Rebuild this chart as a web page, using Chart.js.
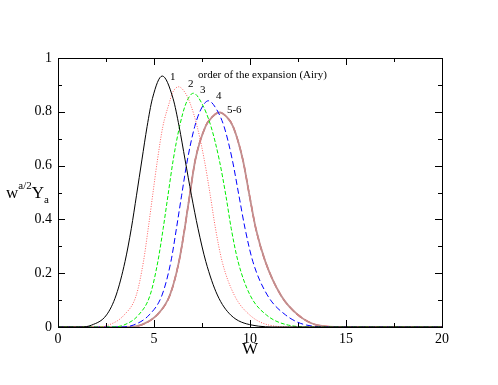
<!DOCTYPE html>
<html>
<head>
<meta charset="utf-8">
<script src="https://cdn.jsdelivr.net/npm/chart.js@4/dist/chart.umd.min.js"></script>
<style>
  html, body { margin: 0; padding: 0; background: #fff; }
  #wrap { width: 498px; height: 385px; }
</style>
</head>
<body>
<div id="wrap"><canvas id="chart"></canvas></div>
<script>
// values (W, w^{a/2} Y_a), one pair of lists per curve
const w1 = [0, 1.2, 1.75, 2.53, 3.03, 3.49, 3.82, 4.09, 4.37, 4.64, 4.92, 5.43, 5.99, 6.31, 6.62, 6.95, 7.29, 7.70, 8.30, 8.99, 10.11, 11.5, 20];
const y1 = [0, 0, 0.007, 0.045, 0.119, 0.243, 0.367, 0.49, 0.621, 0.745, 0.85, 0.933, 0.85, 0.745, 0.621, 0.49, 0.367, 0.243, 0.119, 0.045, 0.007, 0, 0];

const w2 = [0, 2.0, 2.62, 3.45, 4.08, 4.45, 4.70, 4.93, 5.18, 5.46, 5.79, 5.96, 6.28, 6.63, 6.88, 7.25, 7.62, 7.93, 8.20, 8.55, 9.18, 9.98, 11.0, 12.3, 20];
const y2 = [0, 0, 0.007, 0.045, 0.119, 0.243, 0.367, 0.49, 0.621, 0.745, 0.832, 0.87, 0.893, 0.87, 0.832, 0.745, 0.621, 0.49, 0.367, 0.243, 0.119, 0.045, 0.007, 0, 0];

const w3 = [0, 2.8, 3.42, 4.2, 4.8, 5.2, 5.48, 5.73, 6.0, 6.33, 6.66, 7.05, 7.5, 7.97, 8.40, 8.74, 9.02, 9.38, 10.0, 10.85, 12.0, 13.3, 20];
const y3 = [0, 0, 0.007, 0.045, 0.119, 0.243, 0.367, 0.49, 0.621, 0.745, 0.83, 0.869, 0.83, 0.745, 0.621, 0.49, 0.367, 0.243, 0.119, 0.045, 0.007, 0, 0];

const w4 = [0, 3.3, 3.92, 4.75, 5.42, 5.88, 6.17, 6.44, 6.74, 7.12, 7.45, 7.83, 8.25, 8.65, 9.08, 9.42, 9.74, 10.15, 10.9, 11.85, 12.95, 14.3, 20];
const y4 = [0, 0, 0.007, 0.045, 0.119, 0.243, 0.367, 0.49, 0.621, 0.745, 0.81, 0.841, 0.81, 0.745, 0.621, 0.49, 0.367, 0.243, 0.119, 0.045, 0.007, 0, 0];

const w56 = [0, 3.7, 4.3, 5.16, 5.83, 6.3, 6.6, 6.86, 7.15, 7.68, 8.02, 8.4, 8.8, 9.12, 9.63, 9.97, 10.3, 10.8, 11.6, 12.5, 13.5, 14.8, 20];
const y56 = [0, 0, 0.007, 0.045, 0.119, 0.243, 0.367, 0.49, 0.621, 0.745, 0.78, 0.798, 0.78, 0.745, 0.621, 0.49, 0.367, 0.243, 0.119, 0.045, 0.007, 0, 0];

const xTicks = [0, 5, 10, 15, 20];
const yTicks = [0, 0.2, 0.4, 0.6, 0.8, 1];

// text labels placed in data units: [text, W, value]
const notes = [
  ["1", 5.83, 0.918],
  ["2", 6.77, 0.892],
  ["3", 7.40, 0.870],
  ["4", 8.23, 0.849],
  ["5-6", 8.80, 0.796],
  ["order of the expansion (Airy)", 7.29, 0.926]
];

const serif = "'Liberation Serif', 'Times New Roman', serif";

function pts(ws, ys) {
  return ws.map((w, i) => ({ x: w, y: ys[i] }));
}

function line(ws, ys, color, dash, width) {
  return {
    data: pts(ws, ys),
    borderColor: color,
    borderDash: dash,
    borderWidth: width,
    pointRadius: 0,
    fill: false,
    cubicInterpolationMode: "monotone"
  };
}

// inward ticks on all four sides plus the frame, and the free text
const frame = {
  id: "frame",
  afterDraw(chart) {
    const ctx = chart.ctx;
    const a = chart.chartArea;
    const x = chart.scales.x;
    const y = chart.scales.y;
    ctx.save();
    ctx.strokeStyle = "#000";
    ctx.lineWidth = 1;
    ctx.strokeRect(Math.round(a.left) + 0.5, Math.round(a.top) + 0.5,
      Math.round(a.right - a.left), Math.round(a.bottom - a.top));

    ctx.beginPath();
    const xs = x.ticks.map(t => t.value);
    const xStep = xs[1] - xs[0];
    xs.forEach((v, i) => {
      const list = [[v, 7]];
      if (i < xs.length - 1) list.push([v + xStep / 2, 4]);
      list.forEach(([val, len]) => {
        const p = Math.round(x.getPixelForValue(val)) + 0.5;
        ctx.moveTo(p, a.bottom); ctx.lineTo(p, a.bottom - len);
        ctx.moveTo(p, a.top); ctx.lineTo(p, a.top + len);
      });
    });
    const ys = y.ticks.map(t => t.value);
    const yStep = ys[1] - ys[0];
    ys.forEach((v, i) => {
      const list = [[v, 7]];
      if (i < ys.length - 1) list.push([v + yStep / 2, 4]);
      list.forEach(([val, len]) => {
        const p = Math.round(y.getPixelForValue(val)) + 0.5;
        ctx.moveTo(a.left, p); ctx.lineTo(a.left + len, p);
        ctx.moveTo(a.right, p); ctx.lineTo(a.right - len, p);
      });
    });
    ctx.stroke();

    ctx.fillStyle = "#000";
    ctx.textAlign = "left";
    ctx.textBaseline = "alphabetic";
    ctx.font = "11px " + serif;
    notes.forEach(([t, w, v]) => {
      ctx.fillText(t, x.getPixelForValue(w), y.getPixelForValue(v));
    });

    // axis titles
    ctx.font = "17px " + serif;
    ctx.textAlign = "center";
    ctx.fillText("W", (a.left + a.right) / 2, 354);

    ctx.textAlign = "left";
    let px = 6;
    ctx.font = "17px " + serif;
    ctx.fillText("w", px, 198);
    px += ctx.measureText("w").width;
    ctx.font = "11px " + serif;
    ctx.fillText("a/2", px, 189);
    px += ctx.measureText("a/2").width;
    ctx.font = "17px " + serif;
    ctx.fillText("Y", px, 198);
    px += ctx.measureText("Y").width;
    ctx.font = "11px " + serif;
    ctx.fillText("a", px, 203);
    ctx.restore();
  }
};

new Chart(document.getElementById("chart"), {
  type: "line",
  data: {
    datasets: [
      line(w1, y1, "#000000", [], 1),
      line(w2, y2, "#ff6060", [1, 1.5], 1),
      line(w3, y3, "#00ee00", [4, 2], 1),
      line(w4, y4, "#0000ff", [6, 3], 1),
      line(w56, y56, "#c09090", [], 1.8),
      line(w56, y56, "#ff0000", [7, 3], 1.4)
    ]
  },
  options: {
    responsive: true,
    maintainAspectRatio: false,
    animation: false,
    events: [],
    layout: { padding: { top: 58, right: 56, left: 0, bottom: 0 } },
    plugins: { legend: { display: false }, tooltip: { enabled: false } },
    scales: {
      x: {
        type: "linear",
        min: 0,
        max: 20,
        afterBuildTicks: s => { s.ticks = xTicks.map(v => ({ value: v })); },
        afterFit: s => { s.height = 58; },
        grid: { display: false, drawTicks: false },
        border: { display: false },
        ticks: { color: "#000", padding: 4, maxRotation: 0, font: { family: serif, size: 14 } }
      },
      y: {
        type: "linear",
        min: 0,
        max: 1,
        afterBuildTicks: s => { s.ticks = yTicks.map(v => ({ value: v })); },
        afterFit: s => { s.width = 58; },
        grid: { display: false, drawTicks: false },
        border: { display: false },
        ticks: {
          color: "#000",
          padding: 6,
          font: { family: serif, size: 14 },
          callback: v => String(+v.toFixed(1))
        }
      }
    }
  },
  plugins: [frame]
});
</script>
</body>
</html>
